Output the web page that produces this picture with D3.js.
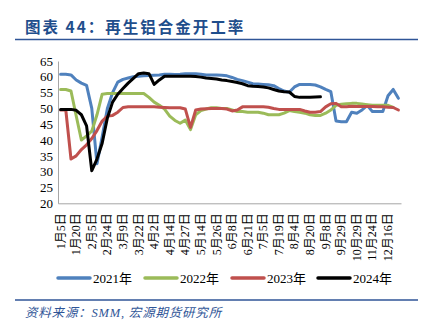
<!DOCTYPE html>
<html><head><meta charset="utf-8">
<script src="https://cdn.jsdelivr.net/npm/d3@7/dist/d3.min.js"></script>
<style>
html,body{margin:0;padding:0;background:#fff;}
svg{display:block;}
</style></head>
<body>
<svg id="chart" width="430" height="336"></svg>
<script>
const categories = ["1月5日","1月10日","1月15日","1月20日","1月26日","1月31日","2月5日","2月10日","2月17日","2月24日","3月1日","3月4日","3月9日","3月13日","3月17日","3月22日","3月25日","3月29日","4月2日","4月7日","4月10日","4月14日","4月19日","4月22日","4月27日","5月6日","5月9日","5月14日","5月19日","5月22日","5月26日","5月31日","6月2日","6月8日","6月14日","6月16日","6月21日","6月28日","6月30日","7月5日","7月12日","7月14日","7月19日","7月26日","7月28日","8月4日","8月11日","8月15日","8月20日","8月25日","9月1日","9月8日","9月15日","9月22日","9月29日","10月13日","10月20日","10月29日","11月3日","11月10日","11月24日","12月1日","12月8日","12月16日","12月22日","12月29日"];
const tickLabels = ["1月5日","1月20日","2月5日","2月24日","3月9日","3月22日","4月2日","4月14日","4月27日","5月14日","5月26日","6月8日","6月21日","7月5日","7月19日","8月4日","8月20日","9月8日","9月29日","10月29日","11月24日","12月16日"];
const yTicks = [20,25,30,35,40,45,50,55,60,65];
const seriesNames = ["2021年","2022年","2023年","2024年"];
const s2021 = [60.8,60.8,60.6,59,58,57.3,50,32.5,41,50,55,58.3,59.2,59.6,60,60.2,60.3,60.4,60.5,60.6,60.8,60.8,60.7,60.8,61,61,61,60.8,60.6,60.6,60.6,60.5,60.3,59.8,59.2,58.8,58.3,57.8,57.7,57.6,57.5,57.2,56.3,55.5,55.1,56.8,57.6,57.6,57.6,57.4,56.8,56,55.3,46,45.8,45.8,48.8,48.5,49.5,51,49,49,49,54,56,53.2];
const s2022 = [56,56,55.5,47.7,40,41.3,42.8,48,54.5,54.7,54.7,54.7,54.7,54.7,54.7,54.7,54.7,53.5,52,51,49.8,47.6,46.2,45.3,46.3,43.3,48,49.3,49.8,50.2,50.2,50,50,49.5,49,49,48.8,48.8,48.8,48.5,48,48,48,48.5,49.3,49,48.8,48.5,48,47.8,47.8,48.5,49.5,51,51.3,51.5,51.6,51.6,51.4,51.2,51,51,51,51,50.3,null];
const s2023 = [49.5,49.5,34,35,37,38.5,40.5,43,46,47.6,47.8,48.8,50.3,50.5,50.5,50.5,50.5,50.5,50.5,50.4,50.3,50.2,50.2,50.2,49.8,44,49.5,49.8,49.9,50,50,50,49.8,49.2,49.5,50.5,50.5,50.5,50.5,50.5,50.4,50,49.7,49.7,49.7,49.7,49.7,49.2,48.8,48.8,49,50.5,51.5,51.6,50.5,50.5,50.7,50.6,50.6,50.6,50.6,50.5,50.5,50.4,50.3,49.5];
const s2024 = [49.7,49.7,49.7,49.4,48,44.5,30.3,34,39,47,52,54.5,56.3,58,59.5,61,61.2,61,57.6,59,60.2,60.2,60.2,60.2,60.2,60.2,60.1,59.9,59.6,59.5,59.3,59,58.8,58.5,58.2,57.8,57.2,57,56.9,56.8,56.5,56,55.5,55.3,55.2,53.8,53.5,53.5,53.5,53.6,53.7];
const colors = ["#4F81BD","#9BBB59","#C0504D","#000000"];

const svg = d3.select("#chart");
const serif = "'Liberation Serif','Times New Roman','Noto Sans CJK SC',serif";

// title
svg.append("text").attr("x",25).attr("y",33)
  .attr("font-family","'Noto Sans CJK SC',sans-serif").attr("font-weight","bold")
  .attr("font-size",15.5).attr("fill","#1F4E8C").attr("letter-spacing",2)
  .text("图表 44：再生铝合金开工率");
svg.append("line").attr("x1",15).attr("x2",418).attr("y1",39.5).attr("y2",39.5)
  .attr("stroke","#2F5597").attr("stroke-width",1.5);

const x = d3.scaleBand().domain(categories).range([58, 401]).padding(0);
const y = d3.scaleLinear().domain([20,65]).range([203.3, 61]);

// axes
const yAxis = svg.append("g").attr("transform","translate(58,0)")
  .call(d3.axisLeft(y).tickValues(yTicks).tickSize(0).tickPadding(5));
yAxis.select(".domain").attr("stroke","#A6A6A6");
yAxis.selectAll("text").attr("font-family",serif).attr("font-size",13).attr("fill","#000");

const xAxis = svg.append("g").attr("transform","translate(0,203.3)")
  .call(d3.axisBottom(x).tickValues(tickLabels).tickSize(0).tickPadding(0));
xAxis.select(".domain").attr("stroke","#A6A6A6");
xAxis.selectAll("text")
  .attr("font-family",serif).attr("font-size",12).attr("fill","#000")
  .attr("text-anchor","end").attr("dy",null)
  .attr("transform","translate(4,10) rotate(-90)")
  .attr("x",0).attr("y",0);

const line = d3.line()
  .defined(d => d.v !== null && d.v !== undefined)
  .x(d => x(d.c) + x.bandwidth()/2)
  .y(d => y(d.v));

[s2021,s2022,s2023,s2024].forEach((s,k) => {
  const data = categories.map((c,i) => ({c, v: i < s.length ? s[i] : null}));
  svg.append("path").datum(data)
    .attr("fill","none").attr("stroke",colors[k]).attr("stroke-width",3)
    .attr("stroke-linejoin","round").attr("stroke-linecap","round")
    .attr("d", line);
});

// legend
const legendX = [58, 145, 232, 318];
seriesNames.forEach((n,k) => {
  const g = svg.append("g").attr("transform",`translate(${legendX[k]},278)`);
  g.append("line").attr("x1",0).attr("x2",32).attr("y1",0).attr("y2",0)
    .attr("stroke",colors[k]).attr("stroke-width",3.5).attr("stroke-linecap","round");
  g.append("text").attr("x",35).attr("y",5).attr("font-family",serif)
    .attr("font-size",13).attr("fill","#000").text(n);
});

// source
svg.append("line").attr("x1",15).attr("x2",418).attr("y1",300).attr("y2",300)
  .attr("stroke","#2F5597").attr("stroke-width",1.5);
svg.append("text").attr("x",25).attr("y",317)
  .attr("font-family",serif).attr("font-style","italic")
  .attr("font-size",12.5).attr("fill","#2F5597").attr("letter-spacing",0.8)
  .text("资料来源：SMM, 宏源期货研究所");
</script>
</body></html>
